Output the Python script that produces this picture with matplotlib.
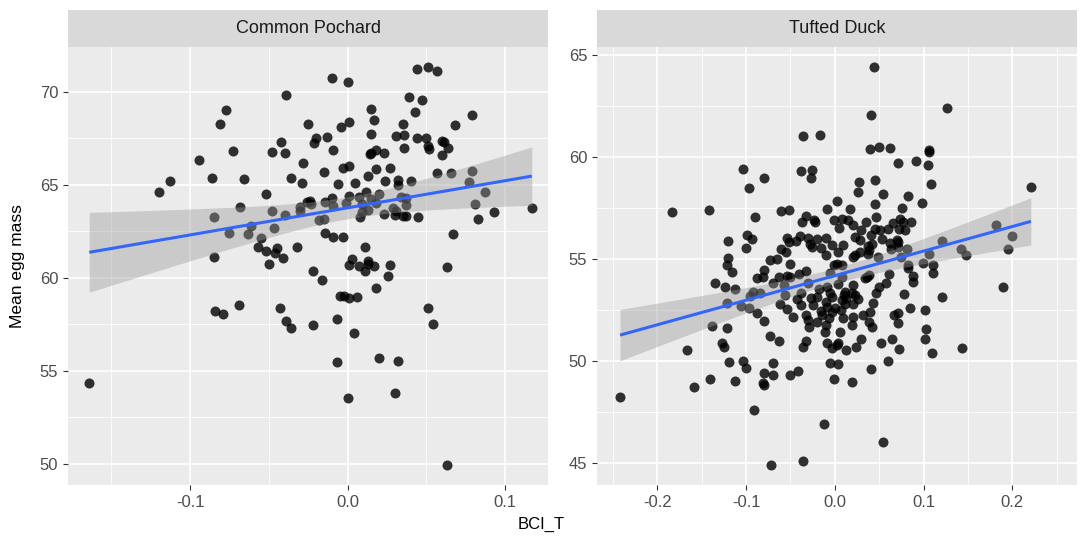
import numpy as np
import matplotlib
matplotlib.use("Agg")
import matplotlib.pyplot as plt
from matplotlib.ticker import MultipleLocator

plt.rcParams['font.family'] = ['Liberation Sans', 'DejaVu Sans']

# Common Pochard: body condition index vs mean egg mass
cp_bci = [-0.039, -0.077, -0.081, -0.042, -0.073, -0.048, -0.040, -0.094, -0.028, -0.086,
          -0.066, -0.036, -0.029, -0.113, -0.120, -0.052, -0.068, -0.085, -0.048, -0.040,
          -0.030, -0.030, -0.061, -0.075, -0.063, -0.047, -0.055, -0.057, -0.052, -0.045,
          -0.046, -0.041, -0.032, -0.085, -0.050, -0.026, -0.025, -0.084, -0.079, -0.069,
          -0.043, -0.039, -0.036, -0.164,
          -0.010, 0.000, 0.044, 0.051, 0.057, 0.039, 0.047, 0.043, 0.015, 0.017,
          0.079, 0.068, -0.004, 0.001, 0.015, 0.035, -0.020, -0.021, -0.013, 0.031,
          0.036, 0.044, 0.050, 0.051, 0.052, 0.060, 0.061, 0.064, 0.060, 0.036,
          -0.009, 0.014, 0.015, 0.018, 0.023, -0.015, -0.003, 0.001, 0.018, 0.027,
          0.013, 0.024, 0.032, 0.032, 0.040, 0.057, 0.066, 0.079, 0.077, 0.087,
          -0.006, 0.005, 0.001, 0.012, 0.020, -0.010, 0.007, 0.015, 0.034, 0.037,
          -0.024, -0.014, -0.009, -0.023, -0.001, 0.009, 0.018, 0.037, 0.009, 0.013,
          0.029, 0.031, 0.008, 0.023, 0.030, 0.035, 0.045, 0.037, -0.018, -0.015,
          0.083, 0.093, 0.117, 0.081, -0.014, -0.009, -0.003, 0.067, 0.011, 0.003,
          0.001, 0.013, 0.027, 0.063,
          -0.022, -0.016, 0.007, 0.013, 0.011, 0.017, 0.026, 0.018, -0.005, -0.002,
          0.001, 0.006, 0.051, 0.054, -0.022, -0.007, 0.004, -0.007, 0.020, 0.032,
          0.000, 0.030, 0.063]
cp_mass = [69.82, 69.00, 68.28, 67.30, 66.83, 66.74, 66.72, 66.33, 66.15, 65.38,
           65.30, 65.38, 65.09, 65.18, 64.62, 64.48, 63.80, 63.26, 63.59, 63.39,
           63.82, 63.60, 62.78, 62.42, 62.37, 62.69, 62.15, 61.67, 61.43, 61.61,
           61.34, 61.08, 61.67, 61.13, 60.74, 64.09, 68.24, 58.24, 58.08, 58.55,
           58.40, 57.67, 57.31, 54.34,
           70.75, 70.52, 71.20, 71.34, 71.13, 69.72, 69.55, 68.89, 69.05, 68.46,
           68.75, 68.23, 68.10, 68.35, 67.74, 68.24, 67.53, 67.24, 67.56, 67.63,
           67.65, 67.49, 67.49, 67.10, 66.92, 67.33, 67.30, 66.98, 66.61, 66.96,
           66.88, 66.63, 66.69, 66.87, 66.71, 65.70, 65.91, 66.02, 65.84, 65.91,
           65.47, 65.22, 65.25, 64.98, 65.22, 65.65, 65.65, 65.74, 65.13, 64.61,
           65.04, 65.11, 64.41, 64.59, 64.52, 64.30, 64.32, 64.25, 64.35, 64.30,
           64.12, 64.09, 63.86, 63.94, 64.03, 63.94, 64.03, 63.89, 63.55, 63.64,
           63.73, 63.59, 63.28, 63.42, 63.37, 63.32, 63.28, 63.32, 63.10, 63.14,
           63.17, 63.55, 63.76, 63.96, 62.42, 62.20, 62.17, 62.38, 61.65, 61.00,
           60.68, 60.91, 60.68, 60.60,
           60.34, 59.89, 60.65, 60.75, 60.34, 60.65, 60.11, 59.45, 59.00, 59.00,
           58.91, 58.96, 58.39, 57.51, 57.47, 57.80, 57.03, 55.50, 55.68, 55.54,
           53.55, 53.83, 49.96]

# Tufted Duck
td_bci = [-0.036, -0.017, -0.104, -0.080, -0.097, -0.038, -0.026, -0.027, -0.184, -0.142,
          -0.090, -0.061, -0.052, -0.037, -0.032, -0.023, -0.022, -0.009, -0.001, 0.002,
          -0.120, -0.099, -0.093, -0.100, -0.054, -0.052, -0.044, -0.039, -0.030, -0.028,
          -0.026, -0.020, -0.015, -0.010, -0.010, -0.003, -0.061, -0.055, -0.065, -0.073,
          -0.120, -0.051, -0.122, 0.044, 0.041, 0.127, 0.040, 0.050, 0.062, 0.106,
          0.106, 0.071, 0.091, 0.105, 0.108, 0.027, 0.045, 0.026, 0.054, 0.083,
          0.045, 0.098, 0.017, 0.076, 0.221, 0.182, 0.200, 0.121, 0.142, 0.148,
          0.195, 0.106, 0.081, 0.008, 0.015, 0.021, 0.035, 0.046, 0.066, 0.073,
          0.077, 0.086, 0.005, 0.029, 0.045, 0.051, 0.060, 0.072, 0.079, 0.023,
          0.028, 0.041, 0.053, 0.070, 0.042, 0.037, 0.063, 0.071, 0.009, 0.021,
          0.028, 0.049, 0.038, 0.075, 0.083, 0.099, 0.111, 0.002, -0.242, -0.166,
          -0.159, -0.141, -0.138, -0.122, -0.127, -0.125, -0.119, -0.113, -0.104, -0.100,
          -0.091, -0.080, -0.081, -0.080, -0.070, -0.070, -0.073, -0.063, -0.051, -0.041,
          -0.036, -0.033, -0.072, -0.036, -0.012, -0.005, -0.001, -0.009, -0.135, -0.124,
          -0.112, -0.122, -0.116, -0.080, -0.081, -0.070, -0.063, -0.054, -0.050, -0.040,
          -0.032, -0.096, -0.092, -0.084, -0.106, -0.097, -0.088, -0.080, -0.062, -0.054,
          -0.047, -0.056, -0.043, -0.038, -0.038, -0.032, -0.029, -0.024, -0.020, -0.018,
          -0.009, -0.010, -0.005, -0.016, -0.020, -0.010, -0.011, -0.003, -0.001, -0.005,
          -0.030, -0.088, 0.190, 0.121, 0.102, 0.085, 0.078, 0.103, 0.102, 0.110,
          0.143, 0.072, 0.060, 0.064, 0.052, 0.041, 0.019, 0.004, 0.054, 0.030,
          0.024, 0.013, 0.004, -0.003, 0.006, 0.019, 0.021, 0.009, 0.007, 0.032,
          0.040, 0.039, 0.042, 0.067, 0.071, 0.071, 0.043, 0.050, 0.058, 0.061,
          0.082, 0.088, 0.088, 0.111, 0.026, 0.010, 0.019, 0.021, 0.004, 0.008,
          -0.003, 0.047, 0.036, 0.039, 0.008, -0.057, 0.008, 0.011, 0.023, -0.027,
          0.013, -0.009, 0.000, 0.011, 0.020, -0.014, -0.006, -0.030, 0.002, 0.034,
          0.004, 0.023, 0.071, 0.062, 0.039]
td_mass = [61.03, 61.06, 59.43, 58.99, 58.47, 59.31, 59.35, 58.96, 57.32, 57.42,
           57.06, 57.34, 57.39, 56.83, 57.09, 56.93, 56.83, 57.47, 56.93, 57.84,
           55.87, 56.19, 56.00, 55.55, 56.04, 55.83, 55.87, 56.14, 56.04, 55.75,
           55.59, 55.97, 55.54, 56.03, 55.18, 55.67, 55.49, 55.34, 55.01, 54.94,
           55.05, 54.77, 54.69, 64.41, 62.04, 62.42, 60.41, 60.49, 60.43, 60.36,
           60.25, 59.71, 59.80, 59.62, 58.66, 58.79, 58.86, 58.30, 58.20, 58.07,
           57.71, 57.75, 57.44, 57.50, 58.53, 56.65, 56.11, 55.90, 55.50, 55.21,
           55.48, 55.26, 55.48, 56.98, 56.90, 56.65, 56.83, 57.04, 56.76, 56.98,
           56.81, 56.81, 56.50, 56.44, 56.49, 56.44, 56.49, 56.49, 56.41, 56.08,
           55.95, 56.16, 56.00, 55.95, 55.75, 55.62, 55.50, 55.83, 55.67, 55.10,
           55.34, 55.10, 55.26, 55.10, 54.69, 54.80, 54.69, 54.77, 48.25, 50.52,
           48.71, 49.12, 51.70, 51.60, 50.90, 50.67, 49.95, 49.02, 50.00, 49.64,
           47.58, 49.40, 48.94, 48.81, 49.90, 49.31, 51.23, 51.00, 49.31, 49.51,
           50.67, 50.98, 44.92, 45.11, 46.93, 49.92, 49.12, 50.87, 53.81, 53.61,
           53.51, 52.86, 54.35, 54.46, 54.13, 53.81, 54.10, 54.18, 54.13, 54.26,
           54.43, 53.19, 53.40, 53.32, 52.70, 52.58, 52.34, 51.96, 52.78, 52.53,
           52.14, 53.24, 53.04, 53.32, 52.73, 52.25, 51.68, 52.75, 53.12, 53.51,
           53.64, 52.91, 53.32, 52.47, 51.93, 51.76, 51.44, 52.42, 54.71, 54.30,
           53.81, 54.05, 53.64, 53.12, 52.49, 52.61, 53.30, 51.58, 51.08, 50.39,
           50.65, 50.59, 50.00, 51.06, 50.90, 49.59, 48.97, 49.85, 46.01, 51.08,
           50.67, 50.54, 50.87, 50.62, 51.41, 51.76, 52.14, 52.09, 52.50, 52.25,
           52.42, 51.93, 51.68, 52.25, 52.37, 51.85, 52.83, 53.61, 53.81, 54.26,
           54.54, 54.17, 53.89, 54.30, 53.02, 53.24, 53.32, 53.73, 53.77, 52.99,
           53.12, 53.32, 54.13, 54.22, 54.71, 53.73, 54.13, 53.40, 53.24, 53.07,
           53.10, 52.66, 52.61, 52.78, 52.78, 52.25, 52.09, 52.01, 50.78, 54.05,
           55.36, 55.20, 55.60, 55.80, 55.44]

W, H = 1082, 537
fig = plt.figure(figsize=(W / 100, H / 100), dpi=100)


def lm_band(x, y):
    x = np.asarray(x)
    y = np.asarray(y)
    b, a = np.polyfit(x, y, 1)
    xs = np.linspace(x.min(), x.max(), 80)
    fit = a + b * xs
    n = len(x)
    resid = y - (a + b * x)
    s = np.sqrt(np.sum(resid ** 2) / (n - 2))
    sxx = np.sum((x - x.mean()) ** 2)
    se = s * np.sqrt(1 / n + (xs - x.mean()) ** 2 / sxx)
    return xs, fit, 1.97 * se


def panel(left, title, x, y, xlim, ylim, xmaj, ymaj):
    ax = fig.add_axes([left / W, 52 / H, 480 / W, 438 / H])
    ax.set_facecolor('#EBEBEB')
    ax.set_xlim(*xlim)
    ax.set_ylim(*ylim)
    ax.xaxis.set_major_locator(MultipleLocator(xmaj))
    ax.xaxis.set_minor_locator(MultipleLocator(xmaj / 2))
    ax.yaxis.set_major_locator(MultipleLocator(ymaj))
    ax.yaxis.set_minor_locator(MultipleLocator(ymaj / 2))
    ax.grid(which='major', color='white', lw=1.2)
    ax.grid(which='minor', color='white', lw=0.6)
    ax.set_axisbelow(True)
    for sp in ax.spines.values():
        sp.set_visible(False)
    ax.tick_params(which='major', length=3.5, width=0.8, color='#333333',
                   labelcolor='#4D4D4D', labelsize=12)
    ax.tick_params(which='minor', length=0)
    ax.xaxis.set_major_formatter(plt.FuncFormatter(lambda v, p: f'{v:.1f}'))

    ax.scatter(x, y, s=52, color='black', alpha=0.8, lw=0, zorder=2)
    xs, fit, ci = lm_band(x, y)
    ax.fill_between(xs, fit - ci, fit + ci, color='#999999', alpha=0.4, lw=0, zorder=3)
    ax.plot(xs, fit, color='#3366FF', lw=2.2, zorder=4, solid_capstyle='butt')

    strip = fig.add_axes([left / W, 490 / H, 480 / W, 37 / H])
    strip.set_facecolor('#D9D9D9')
    strip.set_xticks([])
    strip.set_yticks([])
    for sp in strip.spines.values():
        sp.set_visible(False)
    strip.text(0.5, 0.5, title, ha='center', va='center', fontsize=13, color='#1A1A1A')
    return ax


ax1 = panel(68, 'Common Pochard', cp_bci, cp_mass, (-0.1775, 0.1273), (48.87, 72.4), 0.1, 5)
ax2 = panel(597, 'Tufted Duck', td_bci, td_mass, (-0.268, 0.273), (43.92, 65.39), 0.1, 5)

fig.text(541 / W, 1 - 524 / H, 'BCI_T', ha='center', va='center', fontsize=12, color='black')
fig.text(18 / W, 1 - 266 / H, 'Mean egg mass', ha='center', va='center', rotation=90,
         fontsize=12.5, color='black')

fig.savefig('out.png', dpi=100, facecolor='white')
